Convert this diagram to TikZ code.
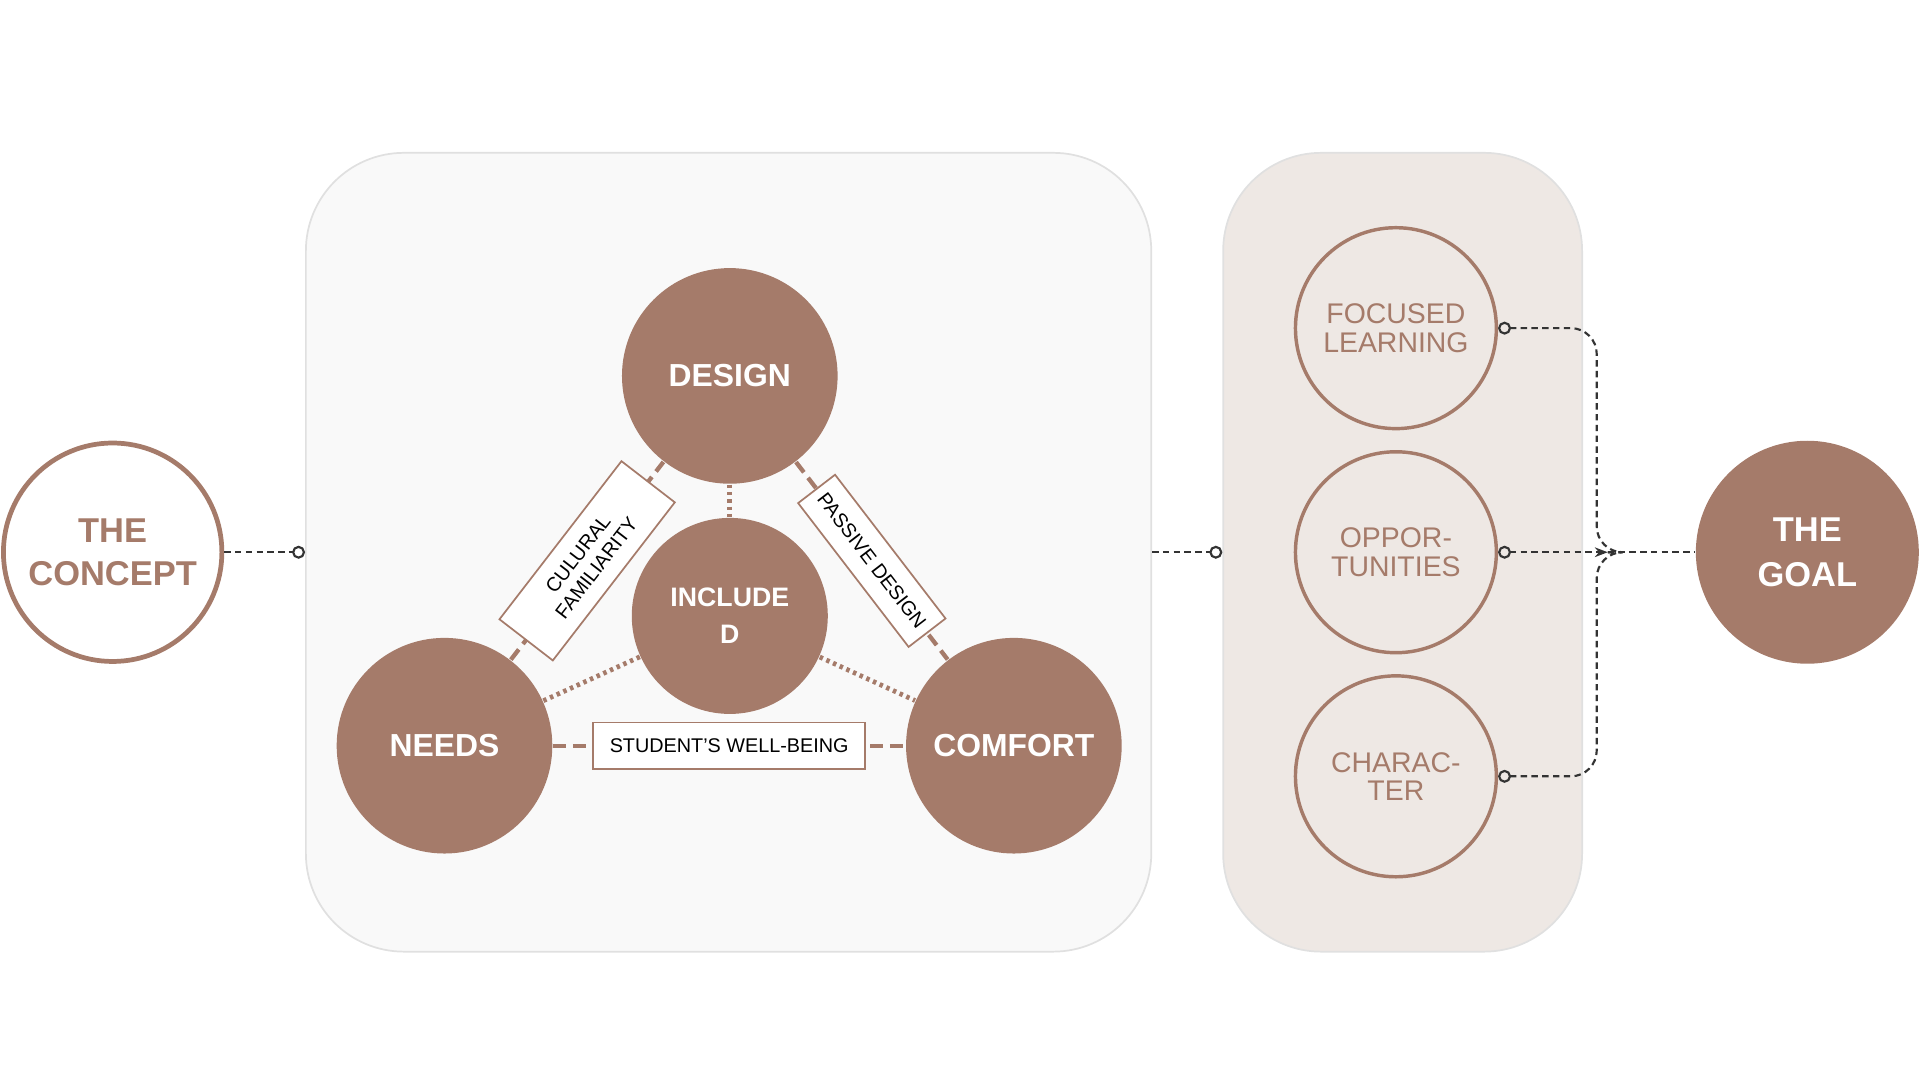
\documentclass[tikz,border=0pt]{standalone}
\usepackage{fontspec}
\setmainfont{Liberation Sans}
\usetikzlibrary{positioning,arrows.meta}
\definecolor{clay}{HTML}{A57B6A}
\definecolor{sand}{HTML}{EEE8E4}
\definecolor{mist}{HTML}{F9F9F9}
\begin{document}
\begin{tikzpicture}[x=0.01cm,y=-0.01cm,
				hub/.style={circle, fill=clay, text=white, font=\fontsize{7.4}{10}\selectfont\bfseries, align=center},
				ring/.style={circle, draw=clay, line width=0.8pt, fill=sand, text=clay, minimum size=1.64cm, font=\fontsize{6.6}{6.6}\selectfont, align=center},
				panel/.style={rectangle, rounded corners=0.8cm, draw=black!12, line width=0.4pt},
				tag/.style={rectangle, draw=clay, solid, fill=white, line width=0.4pt, font=\fontsize{4.6}{5.4}\selectfont, align=center, inner sep=0.5pt},
				link/.style={draw=clay, line width=1pt, dash pattern=on 3pt off 1.6pt},
				dots/.style={draw=clay, line width=1.1pt, dash pattern=on 0.8pt off 0.9pt},
				conn/.style={draw=black!80, line width=0.5pt, dash pattern=on 1.5pt off 1pt}
			]
			\useasboundingbox (0,0) rectangle (1568,882);
			% panels
			\node[panel, fill=mist, minimum width=6.9cm, minimum height=6.52cm] (triad) at (595,451) {};
			\node[panel, fill=sand, minimum width=2.93cm, minimum height=6.52cm] (aims) at (1145.5,451) {};
			% ends
			\node[circle, draw=clay, line width=1.1pt, fill=white, text=clay, minimum size=1.76cm, align=center, font=\fontsize{8}{10}\selectfont\bfseries] (concept) at (92,451) {THE\\CONCEPT};
			\node[hub, minimum size=1.82cm, font=\fontsize{8}{10.5}\selectfont\bfseries] (goal) at (1476,451) {THE\\GOAL};
			% triangle
			\node[hub, minimum size=1.76cm] (design) at (596,307) {DESIGN};
			\node[hub, minimum size=1.76cm] (needs) at (363,609) {NEEDS};
			\node[hub, minimum size=1.76cm] (comfort) at (828,609) {COMFORT};
			\node[hub, minimum size=1.6cm, font=\fontsize{6.2}{8.6}\selectfont\bfseries] (included) at (596,503) {INCLUDE\\D};
			\draw[link] (needs) -- node[tag, sloped, minimum width=1.63cm, minimum height=0.55cm] (cultural) {CULURAL\\FAMILIARITY} (design);
			\draw[link] (design) -- node[tag, sloped, minimum width=1.48cm, minimum height=0.38cm] (passive) {PASSIVE DESIGN} (comfort);
			\draw[link] (needs) -- node[tag, minimum width=2.22cm, minimum height=0.38cm] (wellbeing) {STUDENT'S WELL-BEING} (comfort);
			\draw[dots] (design) -- (included);
			\draw[dots] (included) -- (needs);
			\draw[dots] (included) -- (comfort);
			% outcomes
			\node[ring] (focused) at (1140,268) {FOCUSED\\LEARNING};
			\node[ring] (chances) at (1140,451) {OPPOR-\\TUNITIES};
			\node[ring] (character) at (1140,634) {CHARAC-\\TER};
			\coordinate (join) at (1313,451);
			\begin{scope}[conn]
			\draw[-{Circle[open,length=3pt]}] (concept.east) -- (triad.west);
			\draw[-{Circle[open,length=3pt]}] (triad.east) -- (aims.west);
			\draw[{Circle[open,length=3pt]}-, rounded corners=6pt] (focused.east) -| (1304,451) -- (join);
			\draw[{Circle[open,length=3pt]}-, rounded corners=6pt] (character.east) -| (1304,451) -- (join);
			\draw[{Circle[open,length=3pt]}-{Stealth[length=3pt]}] (chances.east) -- (join);
			\draw (join) -- (goal.west);
			\end{scope}
			\end{tikzpicture}
\end{document}
